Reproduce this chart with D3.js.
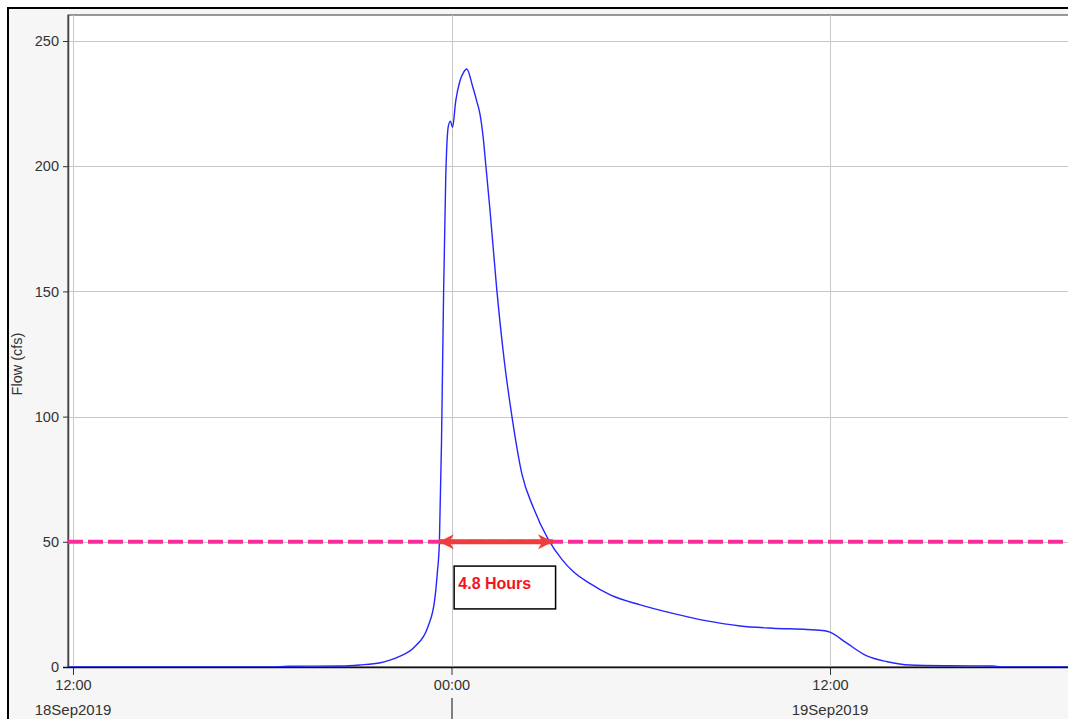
<!DOCTYPE html>
<html>
<head>
<meta charset="utf-8">
<script src="https://cdn.jsdelivr.net/npm/d3@7"></script>
<style>
  body { margin: 0; background: #fff; }
  .tick text { font-family: "Liberation Sans", Arial, sans-serif; font-size: 14.5px; fill: #333; }
  .tick line { stroke: #333; }
  .grid line { stroke: #c8c8c8; stroke-width: 1; shape-rendering: crispEdges; }
</style>
</head>
<body>
<div id="chart"></div>
<script>
// flow hydrograph
const times = [
  "2019-09-18 11:40", "2019-09-18 18:15", "2019-09-18 18:50", "2019-09-18 20:30",
  "2019-09-18 21:05", "2019-09-18 21:45", "2019-09-18 22:20", "2019-09-18 22:50",
  "2019-09-18 23:15", "2019-09-18 23:28", "2019-09-18 23:33", "2019-09-18 23:37",
  "2019-09-18 23:41", "2019-09-18 23:45", "2019-09-18 23:49", "2019-09-18 23:54",
  "2019-09-18 23:58", "2019-09-19 00:02", "2019-09-19 00:08", "2019-09-19 00:16",
  "2019-09-19 00:23", "2019-09-19 00:29", "2019-09-19 00:40", "2019-09-19 00:48",
  "2019-09-19 00:54", "2019-09-19 01:00", "2019-09-19 01:05", "2019-09-19 01:13",
  "2019-09-19 01:26", "2019-09-19 01:40", "2019-09-19 01:55", "2019-09-19 02:14",
  "2019-09-19 02:36", "2019-09-19 03:04", "2019-09-19 03:30", "2019-09-19 03:52",
  "2019-09-19 04:23", "2019-09-19 05:02", "2019-09-19 05:59", "2019-09-19 07:01",
  "2019-09-19 08:06", "2019-09-19 09:09", "2019-09-19 10:11", "2019-09-19 11:16",
  "2019-09-19 11:50", "2019-09-19 12:00", "2019-09-19 12:32", "2019-09-19 13:10",
  "2019-09-19 13:49", "2019-09-19 14:32", "2019-09-19 15:48", "2019-09-19 17:10",
  "2019-09-19 17:25", "2019-09-19 20:00"
];
const flow = [
  0, 0, 0.3, 0.4,
  0.8, 1.7, 4.1, 8.1,
  16, 26.8, 37.5, 50,
  90, 150, 195, 216,
  218, 215.5, 226, 234,
  237.5, 238.8, 232, 226,
  221, 212, 201, 183,
  151, 123, 100, 77,
  63.5, 51, 43, 38,
  33.4, 28.8, 24.8, 21.4,
  18.4, 16.4, 15.5, 15.0,
  14.5, 13.9, 9.5, 4.4,
  2.1, 0.8, 0.5, 0.4,
  0, 0
];

const yTicks = [0, 50, 100, 150, 200, 250];
const xTicks = ["2019-09-18 12:00", "2019-09-19 00:00", "2019-09-19 12:00"];
const dayLabels = [["2019-09-18 12:00", "18Sep2019"], ["2019-09-19 12:00", "19Sep2019"]];

// threshold and annotation
const threshold = 50;
const arrowSpan = ["2019-09-18 23:36", "2019-09-19 03:13"];
const boxSpan = ["2019-09-19 00:05", "2019-09-19 03:18"];
const boxFlow = [40.3, 23.2];
const noteAt = ["2019-09-19 00:13", 31];
const noteText = "4.8 Hours";

const parse = d3.timeParse("%Y-%m-%d %H:%M");
const data = times.map((t, i) => ({ t: parse(t), q: flow[i] }));

const width = 1068, height = 719;

// 12:00 18Sep at px 73, 12:00 19Sep at px 830
const x = d3.scaleTime()
  .domain([parse("2019-09-18 12:00"), parse("2019-09-19 12:00")])
  .range([73, 830]);
const y = d3.scaleLinear()
  .domain([0, 250])
  .range([667, 41]);

const plotLeft = 68, plotTop = 15, plotRight = width + 5, plotBottom = y(0);

const svg = d3.select("#chart").append("svg")
  .attr("width", width)
  .attr("height", height);

// outer panel
svg.append("rect")
  .attr("x", 8).attr("y", 8)
  .attr("width", width + 20).attr("height", height + 20)
  .attr("fill", "#f6f6f6")
  .attr("stroke", "#000")
  .attr("stroke-width", 2);

// plot area
svg.append("rect")
  .attr("x", plotLeft).attr("y", plotTop)
  .attr("width", plotRight - plotLeft).attr("height", plotBottom - plotTop)
  .attr("fill", "#fff")
  .attr("stroke", "#555")
  .attr("stroke-width", 1.2);

svg.append("clipPath").attr("id", "clip")
  .append("rect")
  .attr("x", plotLeft).attr("y", plotTop)
  .attr("width", plotRight - plotLeft).attr("height", plotBottom - plotTop);

// grid
const grid = svg.append("g").attr("class", "grid");
grid.selectAll(".h").data(yTicks.filter(d => d > 0)).join("line")
  .attr("x1", plotLeft).attr("x2", plotRight)
  .attr("y1", d => Math.round(y(d)) + 0.5).attr("y2", d => Math.round(y(d)) + 0.5);
grid.selectAll(".v").data(xTicks).join("line")
  .attr("x1", d => Math.round(x(parse(d))) + 0.5).attr("x2", d => Math.round(x(parse(d))) + 0.5)
  .attr("y1", plotTop).attr("y2", plotBottom);

// y axis
const yAxis = d3.axisLeft(y).tickValues(yTicks).tickSize(5).tickSizeOuter(0).tickPadding(4);
svg.append("g")
  .attr("transform", "translate(" + plotLeft + ",0)")
  .call(yAxis)
  .call(g => g.select(".domain").remove());

svg.append("line")
  .attr("x1", plotLeft + 0.5).attr("x2", plotLeft + 0.5)
  .attr("y1", plotTop).attr("y2", plotBottom)
  .attr("stroke", "#444").attr("stroke-width", 1.5);

svg.append("text")
  .attr("transform", "translate(22," + y(121) + ") rotate(-90)")
  .attr("text-anchor", "middle")
  .style("font-family", "Liberation Sans, Arial, sans-serif")
  .style("font-size", "14.5px")
  .attr("fill", "#333")
  .text("Flow (cfs)");

// x axis
const xAxis = d3.axisBottom(x)
  .tickValues(xTicks.map(parse))
  .tickFormat(d3.timeFormat("%H:%M"))
  .tickSize(8).tickSizeOuter(0).tickPadding(5);
svg.append("g")
  .attr("transform", "translate(0," + plotBottom + ")")
  .call(xAxis)
  .call(g => g.select(".domain").remove());

svg.append("line")
  .attr("x1", plotLeft - 5).attr("x2", plotRight)
  .attr("y1", plotBottom + 0.5).attr("y2", plotBottom + 0.5)
  .attr("stroke", "#111").attr("stroke-width", 1.5);

// day labels
svg.selectAll(".day").data(dayLabels).join("text")
  .attr("x", d => x(parse(d[0])))
  .attr("y", plotBottom + 48)
  .attr("text-anchor", "middle")
  .style("font-family", "Liberation Sans, Arial, sans-serif")
  .style("font-size", "15px")
  .attr("fill", "#333")
  .text(d => d[1]);

// day boundary marker below the axis
svg.append("line")
  .attr("x1", x(parse("2019-09-19 00:00")) + 0.5).attr("x2", x(parse("2019-09-19 00:00")) + 0.5)
  .attr("y1", plotBottom + 31).attr("y2", height)
  .attr("stroke", "#333").attr("stroke-width", 1.2);

const plot = svg.append("g").attr("clip-path", "url(#clip)");

// flow line
const line = d3.line()
  .x(d => x(d.t))
  .y(d => y(d.q))
  .curve(d3.curveMonotoneX);

plot.append("path")
  .datum(data)
  .attr("fill", "none")
  .attr("stroke", "#2626ff")
  .attr("stroke-width", 1.4)
  .attr("d", line);

// threshold line
plot.append("line")
  .attr("x1", plotLeft).attr("x2", plotRight)
  .attr("y1", y(threshold)).attr("y2", y(threshold))
  .attr("stroke", "#f92d97")
  .attr("stroke-width", 4)
  .attr("stroke-dasharray", "15,5");

// duration arrow
const defs = svg.append("defs");
defs.append("marker")
  .attr("id", "head")
  .attr("viewBox", "0 0 10 10")
  .attr("refX", 10).attr("refY", 5)
  .attr("markerUnits", "userSpaceOnUse")
  .attr("markerWidth", 17).attr("markerHeight", 15)
  .attr("orient", "auto-start-reverse")
  .append("path")
  .attr("d", "M0,0 L10,5 L0,10 L3,5 Z")
  .attr("fill", "#f03c3c");

svg.append("line")
  .attr("x1", x(parse(arrowSpan[0]))).attr("x2", x(parse(arrowSpan[1])))
  .attr("y1", y(threshold)).attr("y2", y(threshold))
  .attr("stroke", "#f03c3c")
  .attr("stroke-width", 5)
  .attr("marker-start", "url(#head)")
  .attr("marker-end", "url(#head)");

// note box
svg.append("rect")
  .attr("x", x(parse(boxSpan[0]))).attr("y", y(boxFlow[0]))
  .attr("width", x(parse(boxSpan[1])) - x(parse(boxSpan[0])))
  .attr("height", y(boxFlow[1]) - y(boxFlow[0]))
  .attr("fill", "#fff")
  .attr("stroke", "#000")
  .attr("stroke-width", 1.5);

svg.append("text")
  .attr("x", x(parse(noteAt[0]))).attr("y", y(noteAt[1]))
  .style("font-family", "Liberation Sans, Arial, sans-serif")
  .style("font-size", "16px")
  .style("font-weight", "bold")
  .attr("fill", "#f5141e")
  .text(noteText);
</script>
</body>
</html>
